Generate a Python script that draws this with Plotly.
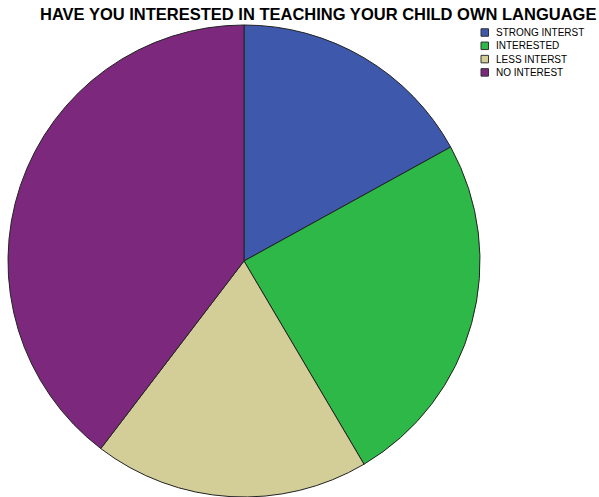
import plotly.graph_objects as go

W, H = 599, 497

labels = ["STRONG INTERST", "INTERESTED", "LESS INTERST", "NO INTEREST"]
counts = [9, 13, 10, 21]
colors = ["#3E58AC", "#2EB848", "#D3CE97", "#7C287D"]
title = "HAVE YOU INTERESTED IN TEACHING YOUR CHILD OWN LANGUAGE"

# pie box in pixels
cx, cy, r = 244, 261, 236

fig = go.Figure(go.Pie(
    labels=labels,
    values=counts,
    marker=dict(colors=colors, line=dict(color="#222222", width=1)),
    sort=False,
    direction="clockwise",
    rotation=0,
    textinfo="none",
    hoverinfo="label+value+percent",
    showlegend=False,
    domain=dict(x=[(cx - r) / W, (cx + r) / W],
                y=[1 - (cy + r) / H, 1 - (cy - r) / H]),
))

shapes = []
annotations = [dict(
    text="<b>" + title + "</b>", x=318 / W, y=1 - 14 / H,
    xref="paper", yref="paper", showarrow=False,
    xanchor="center", yanchor="middle",
    font=dict(family="Liberation Sans, Arial", size=16.5, color="#000000"),
)]

# legend: small bordered swatches with labels
lx0, ly0, step, box = 481, 32.5, 13.3, 7.5
for i, (lab, col) in enumerate(zip(labels, colors)):
    yc = ly0 + i * step
    shapes.append(dict(
        type="rect", xref="paper", yref="paper",
        x0=lx0 / W, x1=(lx0 + box) / W,
        y0=1 - (yc + box / 2) / H, y1=1 - (yc - box / 2) / H,
        fillcolor=col, line=dict(color="#333333", width=1),
    ))
    annotations.append(dict(
        text=lab, x=(lx0 + 13) / W, y=1 - yc / H,
        xref="paper", yref="paper", showarrow=False,
        xanchor="left", yanchor="middle",
        font=dict(family="Liberation Sans, Arial", size=10, color="#000000"),
    ))

fig.update_layout(
    width=W, height=H,
    margin=dict(l=0, r=0, t=0, b=0),
    paper_bgcolor="white", plot_bgcolor="white",
    shapes=shapes, annotations=annotations,
)

fig.write_html("out.html")
